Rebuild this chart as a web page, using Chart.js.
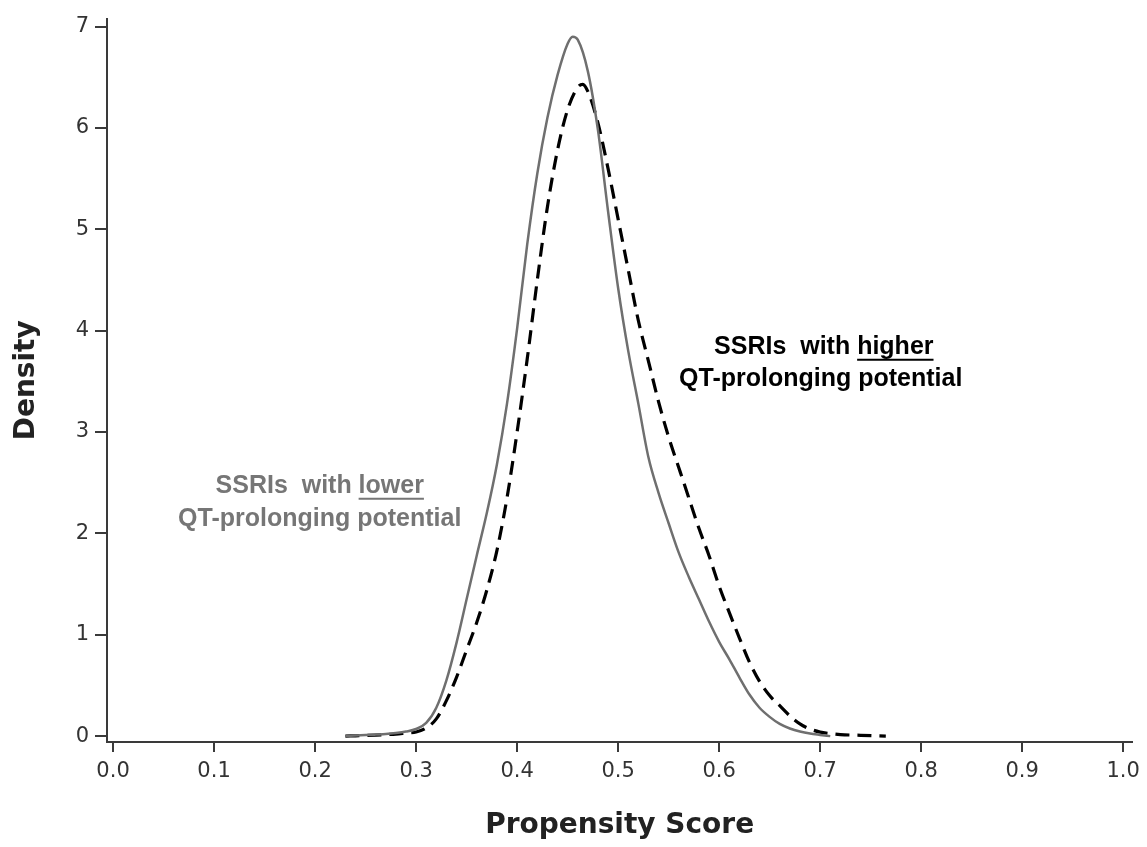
<!DOCTYPE html>
<html>
<head>
<meta charset="utf-8">
<script src="https://cdn.jsdelivr.net/npm/chart.js@4.4.0/dist/chart.umd.min.js"></script>
<style>
  html, body { margin: 0; padding: 0; background: #fff; }
  #wrap { width: 1147px; height: 847px; }
</style>
</head>
<body>
<div id="wrap"><canvas id="density-chart"></canvas></div>
<script>
"use strict";

// propensity score grid (x) for each curve
const lowerScores = [0.23, 0.24, 0.25, 0.26, 0.27, 0.28, 0.29, 0.30, 0.31, 0.32, 0.33, 0.34, 0.35, 0.36, 0.37, 0.38, 0.39, 0.40, 0.41, 0.42, 0.43, 0.44, 0.45, 0.455, 0.46, 0.47, 0.48, 0.49, 0.50, 0.51, 0.52, 0.53, 0.54, 0.55, 0.56, 0.57, 0.58, 0.59, 0.60, 0.61, 0.62, 0.63, 0.64, 0.65, 0.66, 0.67, 0.68, 0.69, 0.70, 0.71];
const lowerDensity = [0.00, 0.005, 0.01, 0.015, 0.02, 0.03, 0.045, 0.07, 0.13, 0.28, 0.55, 0.92, 1.35, 1.78, 2.20, 2.68, 3.28, 4.02, 4.85, 5.55, 6.10, 6.52, 6.83, 6.90, 6.87, 6.56, 5.98, 5.18, 4.42, 3.80, 3.28, 2.75, 2.40, 2.10, 1.81, 1.57, 1.35, 1.13, 0.93, 0.76, 0.58, 0.41, 0.28, 0.19, 0.12, 0.075, 0.045, 0.025, 0.012, 0.0];

const higherScores = [0.23, 0.24, 0.25, 0.26, 0.27, 0.28, 0.29, 0.30, 0.31, 0.32, 0.33, 0.34, 0.35, 0.36, 0.37, 0.38, 0.39, 0.40, 0.41, 0.42, 0.43, 0.44, 0.45, 0.46, 0.465, 0.47, 0.48, 0.49, 0.50, 0.51, 0.52, 0.53, 0.54, 0.55, 0.56, 0.57, 0.58, 0.59, 0.60, 0.61, 0.62, 0.63, 0.64, 0.65, 0.66, 0.67, 0.68, 0.69, 0.70, 0.71, 0.72, 0.74, 0.765];
const higherDensity = [0.00, 0.003, 0.006, 0.01, 0.015, 0.02, 0.03, 0.04, 0.08, 0.17, 0.35, 0.58, 0.85, 1.12, 1.44, 1.83, 2.35, 3.00, 3.72, 4.50, 5.22, 5.78, 6.18, 6.40, 6.43, 6.36, 6.05, 5.60, 5.10, 4.60, 4.10, 3.70, 3.30, 2.95, 2.65, 2.35, 2.05, 1.78, 1.48, 1.22, 0.97, 0.73, 0.54, 0.40, 0.30, 0.20, 0.12, 0.07, 0.04, 0.025, 0.015, 0.008, 0.0];

const xTickValues = [0.0, 0.1, 0.2, 0.3, 0.4, 0.5, 0.6, 0.7, 0.8, 0.9, 1.0];
const yTickValues = [0, 1, 2, 3, 4, 5, 6, 7];

const groupNames = ["SSRIs with lower QT-prolonging potential", "SSRIs with higher QT-prolonging potential"];

function toPoints(xs, ys) {
    let pts = [];
    for (let i = 0; i < xs.length; i++) {
        pts.push({ x: xs[i], y: ys[i] });
    }
    return pts;
}

// text labels sitting next to the curves (data coordinates)
const curveLabels = [
    { x: 0.2046, y: 2.47, pre: "SSRIs  with ", under: "lower", color: "#767676" },
    { x: 0.2046, y: 2.14, pre: "QT-prolonging potential", under: "", color: "#767676" },
    { x: 0.7036, y: 3.84, pre: "SSRIs  with ", under: "higher", color: "#000000" },
    { x: 0.7006, y: 3.52, pre: "QT-prolonging potential", under: "", color: "#000000" }
];

const labelPlugin = {
    id: "curveLabels",
    afterDatasetsDraw(chart) {
        const ctx = chart.ctx;
        const xs = chart.scales.x;
        const ys = chart.scales.y;
        ctx.save();
        ctx.font = "bold 25px 'Liberation Sans', Arial, sans-serif";
        ctx.textBaseline = "middle";
        ctx.textAlign = "left";
        curveLabels.forEach(function (lab) {
            let cx = xs.getPixelForValue(lab.x);
            let cy = ys.getPixelForValue(lab.y);
            let w1 = ctx.measureText(lab.pre).width;
            let w2 = lab.under ? ctx.measureText(lab.under).width : 0;
            let left = cx - (w1 + w2) / 2;
            ctx.fillStyle = lab.color;
            ctx.fillText(lab.pre, left, cy);
            if (lab.under) {
                ctx.fillText(lab.under, left + w1, cy);
                ctx.strokeStyle = lab.color;
                ctx.lineWidth = 2;
                ctx.beginPath();
                ctx.moveTo(left + w1, cy + 13);
                ctx.lineTo(left + w1 + w2, cy + 13);
                ctx.stroke();
            }
        });
        ctx.restore();
    }
};

const axisColor = "#3a3a3a";
const tickFont = { family: "'DejaVu Sans', sans-serif", size: 21 };

let chartHtml = document.getElementById("density-chart");
let chart = new Chart(chartHtml, {
    type: "line",
    data: {
        datasets: [{
            label: groupNames[0],
            data: toPoints(lowerScores, lowerDensity),
            borderColor: "#6f6f6f",
            borderWidth: 2.5,
            pointRadius: 0,
            cubicInterpolationMode: "monotone",
            fill: false
        }, {
            label: groupNames[1],
            data: toPoints(higherScores, higherDensity),
            borderColor: "#000000",
            borderWidth: 3.2,
            borderDash: [14, 8],
            pointRadius: 0,
            cubicInterpolationMode: "monotone",
            fill: false
        }]
    },
    options: {
        responsive: true,
        maintainAspectRatio: false,
        animation: false,
        layout: { padding: { top: 8, right: 13, left: 0, bottom: 0 } },
        plugins: {
            legend: { display: false },
            tooltip: { enabled: false }
        },
        scales: {
            x: {
                type: "linear",
                min: -0.006,
                max: 1.009,
                afterBuildTicks: function (scale) {
                    scale.ticks = xTickValues.map(function (v) { return { value: v }; });
                },
                afterFit: function (scale) { scale.height = 105; },
                ticks: {
                    color: "#333",
                    font: tickFont,
                    padding: 7,
                    maxRotation: 0,
                    autoSkip: false,
                    callback: function (v) { return Number(v).toFixed(1); }
                },
                grid: {
                    display: true,
                    drawOnChartArea: false,
                    drawTicks: true,
                    tickLength: 10,
                    color: axisColor,
                    lineWidth: 2
                },
                border: { display: true, color: axisColor, width: 2 },
                title: {
                    display: true,
                    text: "Propensity Score",
                    color: "#222",
                    font: { family: "'DejaVu Sans', sans-serif", size: 28, weight: "bold" },
                    padding: { top: 0, bottom: 4 }
                }
            },
            y: {
                type: "linear",
                min: -0.058,
                max: 7.078,
                afterBuildTicks: function (scale) {
                    scale.ticks = yTickValues.map(function (v) { return { value: v }; });
                },
                afterFit: function (scale) { scale.width = 107; },
                ticks: {
                    color: "#333",
                    font: tickFont,
                    padding: 6,
                    autoSkip: false
                },
                grid: {
                    display: true,
                    drawOnChartArea: false,
                    drawTicks: true,
                    tickLength: 12,
                    color: axisColor,
                    lineWidth: 2
                },
                border: { display: true, color: axisColor, width: 2 },
                title: {
                    display: true,
                    text: "Density",
                    color: "#222",
                    font: { family: "'DejaVu Sans', sans-serif", size: 28, weight: "bold" },
                    padding: { top: 10, bottom: 0 }
                }
            }
        }
    },
    plugins: [labelPlugin]
});
</script>
</body>
</html>
